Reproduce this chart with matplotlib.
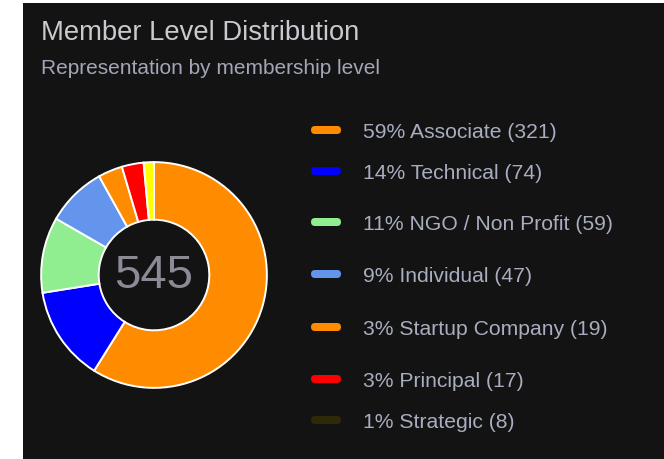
import matplotlib
matplotlib.use("Agg")
import matplotlib.pyplot as plt
from matplotlib.patches import FancyBboxPatch, Rectangle

plt.rcParams["font.family"] = ["Liberation Sans", "DejaVu Sans"]

levels = ["Associate", "Technical", "NGO / Non Profit", "Individual",
          "Startup Company", "Principal", "Strategic"]
counts = [321, 74, 59, 47, 19, 17, 8]
colors = ["#ff8c00", "#0000ff", "#90ee90", "#6495ed", "#ff8c00", "#ff0000", "#ffff00"]
legend_colors = ["#ff8c00", "#0000ff", "#90ee90", "#6495ed", "#ff8c00", "#ff0000", "#2e2906"]

W, H = 664, 460
bg = "#131313"

fig = plt.figure(figsize=(W / 100, H / 100), dpi=100)
fig.patch.set_facecolor("white")
fig.patches.append(Rectangle((23 / W, 0), 1 - 23 / W, 1 - 4 / H,
                             transform=fig.transFigure, facecolor=bg,
                             edgecolor="none", zorder=-5))

total = sum(counts)

# donut
cx, cy, r = 154, 276, 114
ax = fig.add_axes([(cx - r) / W, (H - cy - r) / H, 2 * r / W, 2 * r / H])
ax.set_zorder(2)
ax.pie(counts, colors=colors, startangle=90, counterclock=False, radius=1,
       wedgeprops=dict(width=0.51, edgecolor="white", linewidth=1.4))
ax.set_xlim(-1.01, 1.01)
ax.set_ylim(-1.01, 1.01)
ax.set_aspect("equal")
ax.axis("off")
ax.text(0, 0, str(total), ha="center", va="center", fontsize=34, color="#8b8b96")

# titles
fig.text(41 / W, 1 - 33 / H, "Member Level Distribution", fontsize=19.7,
         color="#c9cacf", va="center", ha="left")
fig.text(41 / W, 1 - 68 / H, "Representation by membership level", fontsize=15,
         color="#a3a6b8", va="center", ha="left")

# legend
legend_y = [131, 172, 223, 275, 328, 380, 421]
for lvl, c, col, y in zip(levels, counts, legend_colors, legend_y):
    pct = round(c * 100 / total)
    box = FancyBboxPatch((311 / W, (H - y - 4) / H), 30 / W, 8 / H,
                         boxstyle="round,pad=0,rounding_size=0.006",
                         transform=fig.transFigure, facecolor=col,
                         edgecolor="none", mutation_aspect=W / H)
    fig.patches.append(box)
    fig.text(363 / W, 1 - (y + 1.5) / H, f"{pct}% {lvl} ({c})", fontsize=15.2,
             color="#a9adc0", va="center", ha="left")

fig.savefig("out.png", dpi=100, facecolor=fig.get_facecolor())
